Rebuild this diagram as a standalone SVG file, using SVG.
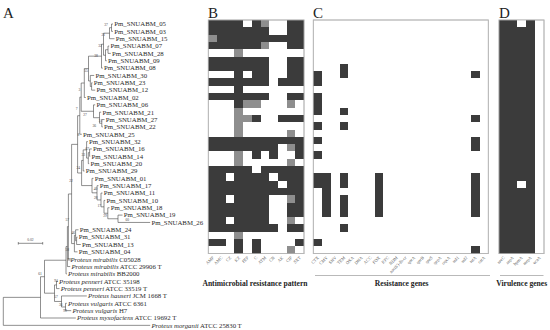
<svg xmlns="http://www.w3.org/2000/svg" width="550" height="330" viewBox="0 0 550 330">
<style>
.lbl{font-family:"Liberation Serif","Times New Roman",serif;font-size:6.8px;fill:#2a2a2a}
.it{font-style:italic}
.bs{font-family:"Liberation Serif",serif;font-size:3.6px;fill:#444;text-anchor:middle}
.pan{font-family:"Liberation Serif",serif;font-size:15px;fill:#222}
.col{font-family:"Liberation Serif",serif;font-size:4.4px;fill:#555;text-anchor:end}
.ttl{font-family:"Liberation Serif",serif;font-size:7.6px;font-weight:bold;fill:#222;text-anchor:middle}
.br{fill:none;stroke:#444;stroke-width:0.6}
.frame{fill:#fff;stroke:#b5b5b5;stroke-width:0.8}
.d{fill:#3b3b3b}
.g{fill:#8e8e8e}
.w{fill:#fff}
.rule{stroke:#8a8a8a;stroke-width:0.6}
</style>
<rect width="550" height="330" fill="#fff"/>

<g id="panel-letters">
<text class="pan" x="3" y="18">A</text>
<text class="pan" x="208" y="18">B</text>
<text class="pan" x="313" y="18">C</text>
<text class="pan" x="499" y="18">D</text>
</g>

<g id="tree-branches">
<path class="br" d="M111.5,24V31.35M111.5,24H113M111.5,31.35H113
M109.5,27.675V38.7M109.5,27.675H111.5M109.5,38.7H114.5
M108,46.05V53.4M108,46.05H109.2M108,53.4H110.8
M105.5,49.725V60.75M105.5,49.725H108M105.5,60.75H106.8
M103.5,33.19V55.24M103.5,33.19H109.5M103.5,55.24H105.5
M101.5,44.21V68.1M101.5,44.21H103.5M101.5,68.1H102.8
M91.6,82.8V90.15M91.6,82.8H92.5M91.6,90.15H95.2
M90.3,75.45V86.475M90.3,75.45H94.2M90.3,86.475H91.6
M88.5,56.16V80.96M88.5,56.16H101.5M88.5,80.96H90.3
M84.3,68.56V97.5M84.3,68.56H88.5M84.3,97.5H85.8
M101.8,119.55V126.9M101.8,119.55H104.5M101.8,126.9H102.8
M99.5,112.2V123.225M99.5,112.2H101.2M99.5,123.225H101.8
M93.5,104.85V117.71M93.5,104.85H95.2M93.5,117.71H99.5
M81.2,83.03V111.28M81.2,83.03H84.3M81.2,111.28H93.5
M79.8,97.16V134.25M79.8,97.16H81.2M79.8,134.25H81.8
M89.6,148.95V156.3M89.6,148.95H91.8M89.6,156.3H90.2
M88.3,152.625V163.65M88.3,152.625H89.6M88.3,163.65H89.2
M86.6,141.6V158.14M86.6,141.6H87.8M86.6,158.14H88.3
M83.2,149.87V171M83.2,149.87H86.6M83.2,171H84.5
M118,215.1V222.45M118,215.1H122.5M118,222.45H150.2
M107.8,207.75V218.775M107.8,207.75H109.5M107.8,218.775H118
M104,200.4V213.26M104,200.4H105.2M104,213.26H107.8
M101,193.05V206.83M101,193.05H102.5M101,206.83H104
M97,185.7V199.94M97,185.7H98.5M97,199.94H101
M92,178.35V192.82M92,178.35H93.5M92,192.82H97
M81.6,160.43V185.59M81.6,160.43H83.2M81.6,185.59H92
M77.6,115.7V173.01M77.6,115.7H79.8M77.6,173.01H81.6
M76.6,237.15V244.5M76.6,237.15H77.5M76.6,244.5H80.8
M75.6,229.8V240.825M75.6,229.8H78.5M75.6,240.825H76.6
M74.4,235.31V251.85M74.4,235.31H75.6M74.4,251.85H77.5
M71.6,144.36V243.58M71.6,144.36H77.6M71.6,243.58H74.4
M68.4,193.97V259.2M68.4,193.97H71.6M68.4,259.2H69.2
M67.4,226.585V266.55M67.4,226.585H68.4M67.4,266.55H70.2
M66,246.57V273.9M66,246.57H67.4M66,273.9H66.8
M56.5,281.25V288.6M56.5,281.25H57.8M56.5,288.6H59.5
M65.5,303.3V310.65M65.5,303.3H66.8M65.5,310.65H71.2
M61.5,295.95V306.975M61.5,295.95H86.8M61.5,306.975H65.5
M54.5,284.925V301.46M54.5,284.925H56.5M54.5,301.46H61.5
M44.5,260.23V293.19M44.5,260.23H66M44.5,293.19H54.5
M40.5,276.71V318M40.5,276.71H44.5M40.5,318H75.8
M3.3,297.36V325.35M3.3,297.36H40.5M3.3,325.35H150.2"/>
</g>

<g id="scale-bar">
<path class="br" d="M18.3,243.3H42.7M18.3,242V244.6M42.7,242V244.6"/>
<text class="bs" x="30.5" y="240.6">0.02</text>
</g>

<g id="bootstrap">
<text class="bs" x="106" y="25.8">37</text>
<text class="bs" x="103.3" y="35.6">21</text>
<text class="bs" x="100" y="47.3">32</text>
<text class="bs" x="96" y="57.3">38</text>
<text class="bs" x="86" y="72.3">55</text>
<text class="bs" x="79.3" y="90.6">3</text>
<text class="bs" x="76.7" y="110.3">7</text>
<text class="bs" x="85" y="116">27</text>
<text class="bs" x="100.5" y="122.3">51</text>
<text class="bs" x="94.3" y="127.3">36</text>
<text class="bs" x="78.3" y="136.3">8</text>
<text class="bs" x="87.3" y="150.3">67</text>
<text class="bs" x="83.3" y="155.6">33</text>
<text class="bs" x="78.3" y="168.6">24</text>
<text class="bs" x="71" y="182.3">22</text>
<text class="bs" x="95.5" y="190.3">40</text>
<text class="bs" x="95.7" y="199">28</text>
<text class="bs" x="99.3" y="207.3">17</text>
<text class="bs" x="105" y="217.3">29</text>
<text class="bs" x="127.3" y="221.2">60</text>
<text class="bs" x="67.3" y="220.6">57</text>
<text class="bs" x="73.3" y="233.6">46</text>
<text class="bs" x="67.3" y="250.6">58</text>
<text class="bs" x="69.3" y="260.6">99</text>
<text class="bs" x="40" y="274.6">61</text>
<text class="bs" x="56" y="282.3">94</text>
<text class="bs" x="56" y="298">57</text>
<text class="bs" x="60.7" y="306.3">36</text>
<text class="bs" x="65" y="312">99</text>
</g>

<g id="leaf-labels" class="lbl">
<text x="114.2" y="26.3">Pm_SNUABM_05</text>
<text x="114.2" y="33.65">Pm_SNUABM_03</text>
<text x="115.7" y="41">Pm_SNUABM_15</text>
<text x="110.4" y="48.35">Pm_SNUABM_07</text>
<text x="112" y="55.7">Pm_SNUABM_28</text>
<text x="108" y="63.05">Pm_SNUABM_09</text>
<text x="104" y="70.4">Pm_SNUABM_08</text>
<text x="95.4" y="77.75">Pm_SNUABM_30</text>
<text x="93.7" y="85.1">Pm_SNUABM_23</text>
<text x="96.4" y="92.45">Pm_SNUABM_12</text>
<text x="87" y="99.8">Pm_SNUABM_02</text>
<text x="96.4" y="107.15">Pm_SNUABM_06</text>
<text x="102.4" y="114.5">Pm_SNUABM_21</text>
<text x="105.7" y="121.85">Pm_SNUABM_27</text>
<text x="104" y="129.2">Pm_SNUABM_22</text>
<text x="83" y="136.55">Pm_SNUABM_25</text>
<text x="89" y="143.9">Pm_SNUABM_32</text>
<text x="93" y="151.25">Pm_SNUABM_16</text>
<text x="91.4" y="158.6">Pm_SNUABM_14</text>
<text x="90.4" y="165.95">Pm_SNUABM_20</text>
<text x="85.7" y="173.3">Pm_SNUABM_29</text>
<text x="94.7" y="180.65">Pm_SNUABM_01</text>
<text x="99.7" y="188">Pm_SNUABM_17</text>
<text x="103.7" y="195.35">Pm_SNUABM_11</text>
<text x="106.4" y="202.7">Pm_SNUABM_10</text>
<text x="110.7" y="210.05">Pm_SNUABM_18</text>
<text x="123.7" y="217.4">Pm_SNUABM_19</text>
<text x="151.4" y="224.75">Pm_SNUABM_26</text>
<text x="79.7" y="232.1">Pm_SNUABM_24</text>
<text x="78.7" y="239.45">Pm_SNUABM_31</text>
<text x="82" y="246.8">Pm_SNUABM_13</text>
<text x="78.7" y="254.15">Pm_SNUABM_04</text>
<text x="70.4" y="261.5"><tspan class="it">Proteus mirabilis</tspan> C05028</text>
<text x="71.4" y="268.85"><tspan class="it">Proteus mirabilis</tspan> ATCC 29906 T</text>
<text x="68" y="276.2"><tspan class="it">Proteus mirabilis</tspan> BB2000</text>
<text x="59" y="283.55"><tspan class="it">Proteus penneri</tspan> ATCC 35198</text>
<text x="60.7" y="290.9"><tspan class="it">Proteus penneri</tspan> ATCC 33519 T</text>
<text x="88" y="298.25"><tspan class="it">Proteus hauseri</tspan> JCM 1668 T</text>
<text x="68" y="305.6"><tspan class="it">Proteus vulgaris</tspan> ATCC 6361</text>
<text x="72.4" y="312.95"><tspan class="it">Proteus vulgaris</tspan> H7</text>
<text x="77" y="320.3"><tspan class="it">Proteus myxofaciens</tspan> ATCC 19692 T</text>
<text x="151.4" y="327.65"><tspan class="it">Proteus morganii</tspan> ATCC 25830 T</text>
</g>

<g id="heatmap-B">
<rect class="frame" x="208.3" y="20" width="95.7" height="233.6"/>
<g transform="translate(208.3,20) scale(8.7,7.3)" shape-rendering="crispEdges">
<rect class="d" x="0" y="0" width="4" height="1"/><rect class="d" x="5" y="0" width="1" height="1"/><rect class="g" x="6" y="0" width="1" height="1"/><rect class="d" x="9" y="0" width="2" height="1"/>
<rect class="d" x="0" y="1" width="7" height="1"/><rect class="d" x="9" y="1" width="2" height="1"/>
<rect class="g" x="0" y="2" width="1" height="1"/><rect class="d" x="1" y="2" width="10" height="1"/>
<rect class="d" x="0" y="3" width="6" height="1"/><rect class="g" x="6" y="3" width="1" height="1"/><rect class="d" x="9" y="3" width="2" height="1"/>
<rect class="g" x="3" y="4" width="1" height="1"/>
<rect class="d" x="0" y="5" width="7" height="2"/><rect class="d" x="9" y="5" width="2" height="2"/>
<rect class="d" x="3" y="7" width="1" height="1"/><rect class="d" x="5" y="7" width="2" height="1"/><rect class="d" x="9" y="7" width="2" height="1"/>
<rect class="d" x="0" y="8" width="7" height="1"/><rect class="d" x="8" y="8" width="3" height="1"/>
<rect class="d" x="3" y="9" width="1" height="1"/>
<rect class="d" x="0" y="10" width="7" height="1"/><rect class="d" x="9" y="10" width="2" height="1"/>
<rect class="d" x="3" y="11" width="1" height="1"/><rect class="g" x="4" y="11" width="2" height="1"/><rect class="g" x="9" y="11" width="1" height="1"/>
<rect class="g" x="3" y="12" width="1" height="1"/>
<rect class="g" x="3" y="13" width="2" height="1"/><rect class="d" x="5" y="13" width="1" height="1"/><rect class="d" x="8" y="13" width="3" height="1"/>
<rect class="g" x="3" y="14" width="1" height="1"/>
<rect class="g" x="3" y="15" width="1" height="1"/><rect class="g" x="9" y="15" width="1" height="1"/>
<rect class="d" x="0" y="16" width="11" height="1"/>
<rect class="d" x="0" y="17" width="8" height="1"/><rect class="g" x="9" y="17" width="1" height="1"/><rect class="d" x="10" y="17" width="1" height="1"/>
<rect class="g" x="3" y="18" width="1" height="1"/><rect class="d" x="5" y="18" width="1" height="1"/><rect class="d" x="7" y="18" width="1" height="1"/><rect class="d" x="10" y="18" width="1" height="1"/>
<rect class="g" x="3" y="19" width="1" height="1"/><rect class="g" x="9" y="19" width="1" height="1"/>
<rect class="d" x="0" y="20" width="5" height="1"/><rect class="d" x="6" y="20" width="5" height="1"/>
<rect class="d" x="0" y="21" width="2" height="1"/><rect class="d" x="3" y="21" width="4" height="1"/><rect class="d" x="8" y="21" width="3" height="1"/>
<rect class="d" x="0" y="22" width="8" height="1"/><rect class="d" x="9" y="22" width="2" height="1"/>
<rect class="d" x="0" y="23" width="11" height="1"/>
<rect class="d" x="0" y="24" width="2" height="1"/><rect class="d" x="3" y="24" width="4" height="1"/><rect class="g" x="9" y="24" width="1" height="1"/><rect class="d" x="10" y="24" width="1" height="1"/>
<rect class="d" x="0" y="25" width="7" height="2"/><rect class="d" x="9" y="25" width="2" height="2"/>
<rect class="d" x="0" y="27" width="2" height="1"/><rect class="d" x="3" y="27" width="4" height="1"/><rect class="g" x="9" y="27" width="1" height="1"/>
<rect class="d" x="0" y="28" width="8" height="1"/><rect class="d" x="9" y="28" width="2" height="1"/>
<rect class="g" x="3" y="29" width="1" height="1"/>
<rect class="d" x="0" y="30" width="2" height="1"/><rect class="d" x="3" y="30" width="1" height="1"/><rect class="d" x="5" y="30" width="1" height="1"/><rect class="d" x="10" y="30" width="1" height="1"/>
<rect class="d" x="3" y="31" width="1" height="1"/><rect class="d" x="5" y="31" width="1" height="1"/><rect class="g" x="9" y="31" width="1" height="1"/>
</g>
<rect x="208.3" y="20" width="95.7" height="233.6" fill="none" stroke="#b5b5b5" stroke-width="0.8"/>
</g>

<g id="heatmap-C">
<rect class="frame" x="313.3" y="20" width="175" height="233.6"/>
<g transform="translate(313.3,20) scale(8.75,7.3)" shape-rendering="crispEdges" class="d">
<rect x="0" y="7" width="1" height="2"/><rect x="0" y="10" width="1" height="3"/><rect x="0" y="14" width="1" height="1"/><rect x="0" y="16" width="1" height="1"/><rect x="0" y="18" width="1" height="1"/><rect x="0" y="21" width="1" height="2"/><rect x="0" y="30" width="1" height="1"/>
<rect x="1" y="21" width="1" height="6"/>
<rect x="3" y="6" width="1" height="2"/><rect x="3" y="12" width="1" height="1"/><rect x="3" y="14" width="1" height="1"/><rect x="3" y="21" width="1" height="2"/><rect x="3" y="24" width="1" height="3"/><rect x="3" y="28" width="1" height="1"/>
<rect x="7" y="21" width="1" height="6"/>
<rect x="18" y="7" width="1" height="1"/><rect x="18" y="13" width="1" height="1"/><rect x="18" y="16" width="1" height="2"/><rect x="18" y="21" width="1" height="6"/><rect x="18" y="31" width="1" height="1"/>
</g>
<rect x="313.3" y="20" width="175" height="233.6" fill="none" stroke="#b5b5b5" stroke-width="0.8"/>
</g>

<g id="heatmap-D">
<rect class="frame" x="499" y="20" width="45" height="233.6"/>
<g transform="translate(499,20) scale(9,7.3)" shape-rendering="crispEdges">
<rect class="d" x="0" y="0" width="4" height="32"/>
<rect class="w" x="2" y="0" width="1" height="1"/>
<rect class="w" x="2" y="22" width="1" height="1"/>
</g>
<rect x="499" y="20" width="45" height="233.6" fill="none" stroke="#b5b5b5" stroke-width="0.8"/>
</g>

<g id="labels-B" class="col">
<text transform="translate(214.2,258) rotate(-45)">AMP</text>
<text transform="translate(222.9,258) rotate(-45)">AMC</text>
<text transform="translate(231.6,258) rotate(-45)">CZ</text>
<text transform="translate(240.3,258) rotate(-45)">KZ</text>
<text transform="translate(249,258) rotate(-45)">FEP</text>
<text transform="translate(257.7,258) rotate(-45)">C</text>
<text transform="translate(266.4,258) rotate(-45)">ATM</text>
<text transform="translate(275.1,258) rotate(-45)">CN</text>
<text transform="translate(283.8,258) rotate(-45)">AK</text>
<text transform="translate(292.5,258) rotate(-45)">CIP</text>
<text transform="translate(301.2,258) rotate(-45)">SXT</text>
</g>

<g id="labels-C" class="col">
<text transform="translate(319.2,258) rotate(-45)">CTX</text>
<text transform="translate(327.9,258) rotate(-45)">CMY</text>
<text transform="translate(336.7,258) rotate(-45)">SHV</text>
<text transform="translate(345.4,258) rotate(-45)">TEM</text>
<text transform="translate(354.2,258) rotate(-45)">OXA</text>
<text transform="translate(362.9,258) rotate(-45)">DHA</text>
<text transform="translate(371.7,258) rotate(-45)">ACC</text>
<text transform="translate(380.4,258) rotate(-45)">FOX</text>
<text transform="translate(389.2,258) rotate(-45)">KPC</text>
<text transform="translate(397.9,258) rotate(-45)">NDM</text>
<text transform="translate(406.7,258) rotate(-45)">aac(6')-Ib-cr</text>
<text transform="translate(415.4,258) rotate(-45)">qnrA</text>
<text transform="translate(424.2,258) rotate(-45)">qnrB</text>
<text transform="translate(432.9,258) rotate(-45)">qnrS</text>
<text transform="translate(441.7,258) rotate(-45)">qepA</text>
<text transform="translate(450.4,258) rotate(-45)">oqxA</text>
<text transform="translate(459.2,258) rotate(-45)">sul1</text>
<text transform="translate(467.9,258) rotate(-45)">sul2</text>
<text transform="translate(476.7,258) rotate(-45)">tetA</text>
<text transform="translate(485.4,258) rotate(-45)">catA</text>
</g>

<g id="labels-D" class="col">
<text transform="translate(505,258) rotate(-45)">ureC</text>
<text transform="translate(514,258) rotate(-45)">zapA</text>
<text transform="translate(523,258) rotate(-45)">hpmA</text>
<text transform="translate(532,258) rotate(-45)">mrpA</text>
<text transform="translate(541,258) rotate(-45)">ucaA</text>
</g>

<g id="titles">
<line class="rule" x1="315" y1="275.5" x2="490" y2="275.5"/>
<line class="rule" x1="500" y1="275.5" x2="543.5" y2="275.5"/>
<text class="ttl" x="255" y="285.5">Antimicrobial resistance pattern</text>
<text class="ttl" x="401.7" y="285.5">Resistance genes</text>
<text class="ttl" x="521.7" y="285.5">Virulence genes</text>
</g>
</svg>
